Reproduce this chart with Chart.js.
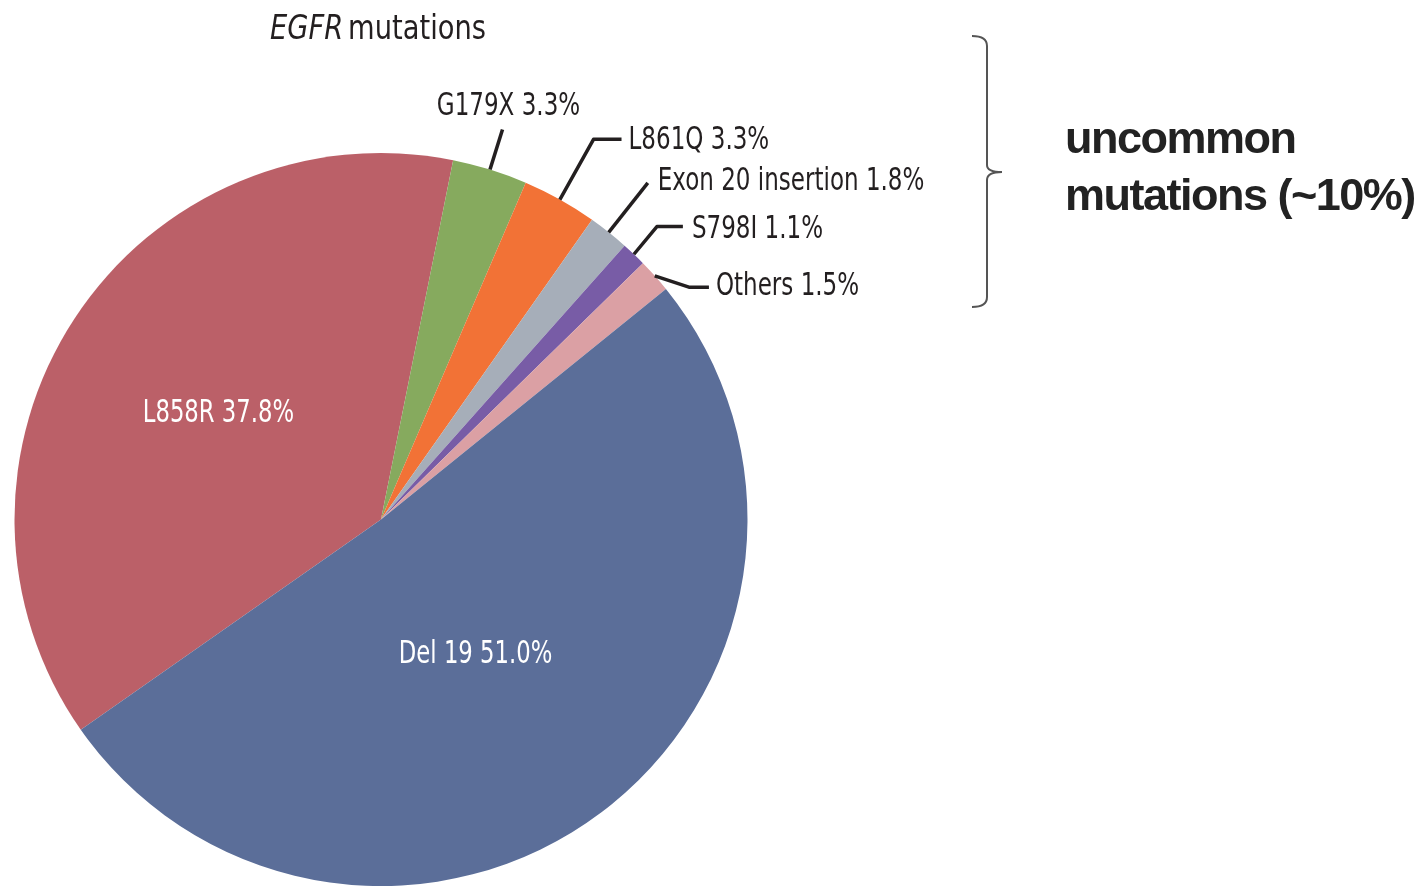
<!DOCTYPE html>
<html>
<head>
<meta charset="utf-8">
<title>EGFR mutations</title>
<script src="https://cdn.jsdelivr.net/npm/chart.js@4"></script>
<style>
  html, body { margin: 0; padding: 0; background: #fff; }
  #wrap { width: 1425px; height: 886px; position: relative; }
</style>
</head>
<body>
<div id="wrap"><canvas id="pie"></canvas></div>
<script>
const mutations = ['L858R', 'G179X', 'L861Q', 'Exon 20 insertion', 'S798I', 'Others', 'Del 19'];
const shares = [37.8, 3.3, 3.3, 1.8, 1.1, 1.5, 51.0];
const sliceColors = ['#bb6068', '#86aa5e', '#f27236', '#a6aeb9', '#785ca6', '#dba0a4', '#5b6e99'];

const narrow = '"Liberation Sans Narrow", "DejaVu Sans Condensed", sans-serif';
const ink = '#231f20';

// how each label sits relative to its slice
const labelPlacement = [
    { inside: true, r: 0.53, turn: 0 },
    { len: 42, lean: 0, tail: 0, dx: 6, dy: -23, align: 'center' },
    { len: 69, lean: 0, tail: 28, dx: 7, dy: 1, align: 'left' },
    { len: 63, lean: 0, tail: 0, dx: 10, dy: -1, align: 'left' },
    { len: 36, lean: -4, tail: 26, dx: 9, dy: 3, align: 'left' },
    { len: 36, lean: 60, tail: 20, dx: 7, dy: 0, align: 'left' },
    { inside: true, r: 0.45, turn: 2 }
];

// squeezed text so the labels read as a condensed face
function narrowText(ctx, text, x, y, align, squeeze) {
    ctx.save();
    ctx.translate(x, y);
    ctx.scale(squeeze, 1);
    ctx.textAlign = align;
    ctx.fillText(text, 0, 0);
    ctx.restore();
}

const sliceLabels = {
    id: 'sliceLabels',
    afterDatasetsDraw(chart) {
        const ctx = chart.ctx;
        const arcs = chart.getDatasetMeta(0).data;
        ctx.save();
        ctx.font = '32px ' + narrow;
        ctx.textBaseline = 'middle';
        arcs.forEach((arc, i) => {
            const p = labelPlacement[i];
            const text = mutations[i] + ' ' + shares[i].toFixed(1) + '%';
            const mid = (arc.startAngle + arc.endAngle) / 2;
            if (p.inside) {
                const a = mid + p.turn * Math.PI / 180;
                const rr = arc.outerRadius * p.r;
                ctx.fillStyle = '#fff';
                narrowText(ctx, text, arc.x + Math.cos(a) * rr, arc.y + Math.sin(a) * rr, 'center', 0.79);
                return;
            }
            const sx = arc.x + Math.cos(mid) * arc.outerRadius;
            const sy = arc.y + Math.sin(mid) * arc.outerRadius;
            const a = mid + p.lean * Math.PI / 180;
            const ex = sx + Math.cos(a) * p.len;
            const ey = sy + Math.sin(a) * p.len;
            ctx.strokeStyle = ink;
            ctx.lineWidth = 3.5;
            ctx.lineJoin = 'round';
            ctx.beginPath();
            ctx.moveTo(sx, sy);
            ctx.lineTo(ex, ey);
            ctx.lineTo(ex + p.tail, ey);
            ctx.stroke();
            ctx.fillStyle = ink;
            narrowText(ctx, text, ex + p.tail + p.dx, ey + p.dy, p.align, 0.8);
        });
        ctx.restore();
    }
};

const extras = {
    id: 'extras',
    afterDraw(chart) {
        const ctx = chart.ctx;
        ctx.save();
        // title: italic gene name followed by plain word
        ctx.fillStyle = ink;
        ctx.textBaseline = 'alphabetic';
        ctx.font = 'italic 33px ' + narrow;
        narrowText(ctx, 'EGFR', 270, 39, 'left', 0.92);
        const w = ctx.measureText('EGFR').width * 0.92;
        ctx.font = '33px ' + narrow;
        narrowText(ctx, 'mutations', 270 + w + 5, 39, 'left', 0.92);

        // brace grouping the uncommon mutations
        ctx.strokeStyle = '#555';
        ctx.lineWidth = 2;
        ctx.beginPath();
        ctx.moveTo(972, 36);
        ctx.quadraticCurveTo(987, 36, 987, 46);
        ctx.lineTo(987, 165);
        ctx.quadraticCurveTo(987, 172, 1002, 172);
        ctx.moveTo(1002, 172);
        ctx.quadraticCurveTo(987, 172, 987, 180);
        ctx.lineTo(987, 297);
        ctx.quadraticCurveTo(987, 307, 972, 307);
        ctx.stroke();

        ctx.fillStyle = '#222';
        ctx.font = 'bold 45px "Liberation Sans", Arial, sans-serif';
        ctx.letterSpacing = '-1.5px';
        ctx.fillText('uncommon', 1065, 153);
        ctx.fillText('mutations (~10%)', 1065, 210);
        ctx.restore();
    }
};

new Chart(document.getElementById('pie'), {
    type: 'pie',
    data: {
        labels: mutations,
        datasets: [{
            data: shares,
            backgroundColor: sliceColors,
            borderWidth: 0
        }]
    },
    options: {
        responsive: true,
        maintainAspectRatio: false,
        animation: false,
        rotation: -125,
        layout: { padding: { left: 14, top: 153, right: 677, bottom: 0 } },
        plugins: {
            legend: { display: false },
            tooltip: { enabled: false }
        }
    },
    plugins: [sliceLabels, extras]
});
</script>
</body>
</html>
